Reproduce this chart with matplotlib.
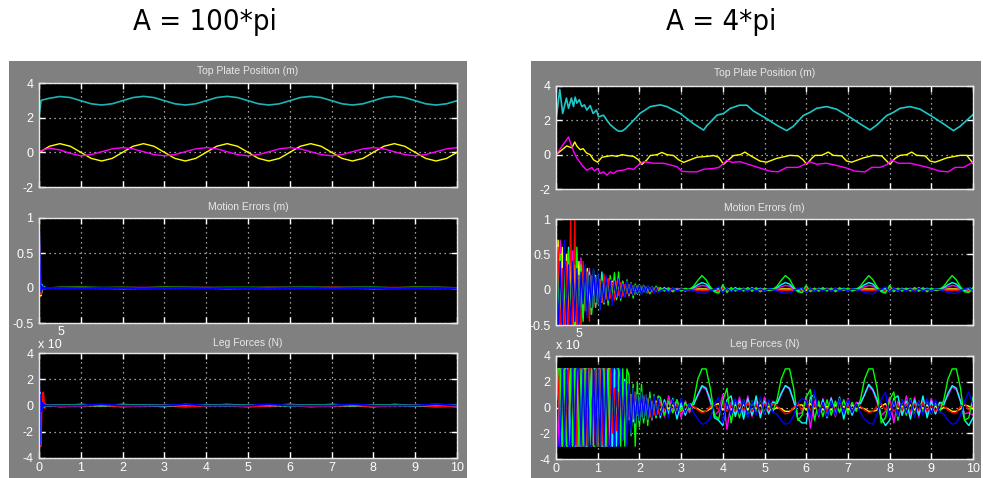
import numpy as np
import matplotlib
matplotlib.use('Agg')
import matplotlib.pyplot as plt
from matplotlib import font_manager as fm
from matplotlib.patches import Rectangle

# ---------------- data ----------------
# left scope (A = 100*pi), top plate position
t_top_l = [0, 0.05] + list(np.arange(0.25, 10.01, 0.25))
cyan_top_l = [2.0, 3.0,
              3.12, 3.22, 3.16, 2.98, 2.80, 2.73, 2.80, 2.98,
              3.16, 3.23, 3.16, 2.98, 2.80, 2.73, 2.80, 2.98,
              3.16, 3.23, 3.16, 2.98, 2.80, 2.73, 2.80, 2.98,
              3.16, 3.23, 3.16, 2.98, 2.80, 2.73, 2.80, 2.98,
              3.16, 3.23, 3.16, 2.98, 2.80, 2.73, 2.80, 2.98]
yel_top_l = [0.0, 0.05,
             0.35, 0.5, 0.35, 0.0, -0.35, -0.5, -0.35, 0.0,
             0.35, 0.5, 0.35, 0.0, -0.35, -0.5, -0.35, 0.0,
             0.35, 0.5, 0.35, 0.0, -0.35, -0.5, -0.35, 0.0,
             0.35, 0.5, 0.35, 0.0, -0.35, -0.5, -0.35, 0.0,
             0.35, 0.5, 0.35, 0.0, -0.35, -0.5, -0.35, 0.0]
mag_top_l = [0.0, 0.1,
             0.24, 0.14, -0.06, -0.2, -0.13, 0.035, 0.2, 0.27,
             0.2, 0.035, -0.13, -0.2, -0.13, 0.035, 0.2, 0.27,
             0.2, 0.035, -0.13, -0.2, -0.13, 0.035, 0.2, 0.27,
             0.2, 0.035, -0.13, -0.2, -0.13, 0.035, 0.2, 0.27,
             0.2, 0.035, -0.13, -0.2, -0.13, 0.035, 0.2, 0.27]

# left scope motion errors (cm), 0-0.30 s step 0.02 then 0.5-10 s step 0.5
me_l_a = {
    'yellow':  [0, -5, -11, -6, 3, -1, 1, 0, 0, 0, 0, 0, 0, 0, 0, 0],
    'magenta': [80, 25, -8, 4, -2, 2, -1, 1, 0, 0, 0, 0, 0, 0, 0, 0],
    'cyan':    [60, 5, -4, 5, -2, 1, 0, 1, 0, 0, 0, 0, 0, 0, 0, 0],
    'red':     [0, 60, -9, 3, -1, 1, 0, 0, 0, 0, 0, 0, 0, 0, 0, 0],
    'green':   [85, 10, -3, 2, 1, -1, 1, 0, 0, 0, 0, 0, 0, 0, 0, 0],
    'blue':    [85, 40, -5, 3, -2, 1, -1, 0, 1, 0, 0, -1, 0, 0, 0, 0],
}
me_l_b = {
    'yellow':  [0, 0.4, 0, -0.4, 0, 0.4, 0, 0, -0.4, 0, 0.4, 0, 0, 0.4, 0, -0.4, 0, 0.4, 0, 0],
    'magenta': [0.4, 0, -0.4, 0, 0.4, 0, 0.4, 0, 0, -0.4, 0, 0.4, 0, 0, 0.4, 0, -0.4, 0, 0.4, 0],
    'cyan':    [0, 0, 0.3, 0, -0.3, 0, 0, 0.3, 0, 0, -0.3, 0, 0.3, 0, 0, 0.3, 0, 0, -0.3, 0],
    'red':     [-0.4, 0, 0, 0.4, 0, -0.4, 0, 0.4, 0, 0, 0, -0.4, 0, 0.4, 0, 0, 0.4, 0, 0, -0.4],
    'green':   [0.5, 0.5, 0, 0.5, 0, 0.5, 0.5, 0, 0.5, 0.5, 0, 0.5, 0.5, 0, 0.5, 0.5, 0, 0.5, 0.5, 0],
    'blue':    [0, -0.3, 0, 0, -0.3, 0, 0, -0.3, 0, 0, -0.3, 0, 0, -0.3, 0, 0, -0.3, 0, 0, -0.3],
}

# left scope leg forces (x 1e4 N), same time grids
f_l_a = {
    'yellow':  [0, 5, -8, 4, -1, 1, 0, 0, 0, 0, 0, 0, 0, 0, 0, 0],
    'magenta': [0, 8, -12, 5, -2, 1, 0, 0, 0, 0, 0, 0, 0, 0, 0, 0],
    'cyan':    [0, 10, -6, -3, 3, -1, 1, 0, 0, 0, 0, 0, 0, 0, 0, 0],
    'red':     [0, -10, -31, -5, 8, 10, 2, -2, 1, 0, 0, 0, 0, 0, 0, 0],
    'green':   [0, -25, 4, -3, 2, 1, -1, 1, 0, 0, 0, 0, 0, 0, 0, 0],
    'blue':    [30, -30, 8, -4, 2, -1, 1, 0, 0, 0, 0, 0, 0, 0, 0, 0],
}
f_l_b = {
    'yellow':  [0, 0.6, 0, 0.6, 0, -0.6, 0.6, 0, 0.6, 0, 0, 0.6, 0, 0.6, 0, -0.6, 0.6, 0, 0.6, 0],
    'magenta': [-0.8, 0, 0.5, -0.8, 0, 0, -0.8, 0.5, 0, -0.8, 0, 0.5, -0.8, 0, 0, -0.8, 0.5, 0, -0.8, 0],
    'cyan':    [0, 0.3, 0, 0, 0.3, 0, 0, 0.3, 0, 0, 0.3, 0, 0, 0.3, 0, 0, 0.3, 0, 0, 0.3],
    'red':     [-0.6, 0, 0, -0.6, 0, 0.3, -0.6, 0, 0, -0.6, 0, 0.3, -0.6, 0, 0, -0.6, 0, 0.3, -0.6, 0],
    'green':   [0.4, 0.4, 0, 0.4, 0.4, 0, 0.4, 0.4, 0, 0.4, 0.4, 0, 0.4, 0.4, 0, 0.4, 0.4, 0, 0.4, 0.4],
    'blue':    [0, 0, 0.9, 0, 0, 0, 0.9, 0, 0, 0, 0.9, 0, 0, 0, 0.9, 0, 0, 0, 0.9, 0],
}

# right scope (A = 4*pi), top plate position
t_cyan_r = [0, 0.09, 0.16, 0.25, 0.3, 0.37, 0.42, 0.46, 0.5, 0.56,
            0.62, 0.68, 0.74, 0.82, 0.89, 0.97, 1.02, 1.14, 1.22, 1.3,
            1.42, 1.5, 1.58, 1.66, 1.78, 1.9, 2.02, 2.14, 2.26, 2.5,
            2.66, 2.82, 2.98, 3.14, 3.3, 3.54, 3.62, 3.74, 3.86, 4.02,
            4.18, 4.4, 4.58, 4.73, 5.05, 5.29, 5.53, 5.69, 5.93, 6.09,
            6.25, 6.49, 6.73, 7.05, 7.29, 7.53, 7.69, 7.93, 8.09, 8.25,
            8.49, 8.73, 9.05, 9.29, 9.53, 9.69, 10.0]
cyan_top_r = [2.0, 3.8, 2.4, 3.3, 2.7, 3.3, 2.8, 3.35, 3.0, 3.2,
              2.8, 2.9, 2.6, 2.86, 2.4, 2.6, 2.2, 2.3, 2.0, 1.75,
              1.5, 1.37, 1.37, 1.5, 1.8, 2.1, 2.42, 2.6, 2.8, 2.9,
              2.8, 2.6, 2.4, 2.1, 1.8, 1.43, 1.7, 2.0, 2.3, 2.4,
              2.7, 2.88, 2.88, 2.55, 2.1, 1.72, 1.4, 1.65, 2.28, 2.46,
              2.7, 2.8, 2.65, 2.18, 1.8, 1.44, 1.72, 2.28, 2.46, 2.7,
              2.8, 2.65, 2.18, 1.8, 1.4, 1.65, 2.33]
t_yel_r = [0, 0.26, 0.38, 0.45, 0.5, 0.58, 0.65, 0.73, 0.82, 0.9,
           1.0, 1.1, 1.22, 1.34, 1.46, 1.58, 1.7, 1.86, 1.98, 2.06,
           2.18, 2.26, 2.42, 2.54, 2.66, 2.82, 2.94, 3.06, 3.22, 3.38,
           3.62, 3.78, 3.9, 4.02, 4.14, 4.26, 4.42, 4.53, 4.65, 4.89,
           5.05, 5.29, 5.61, 5.81, 5.93, 6.01, 6.13, 6.21, 6.37, 6.53,
           6.65, 6.85, 6.97, 7.09, 7.37, 7.61, 7.81, 7.93, 8.01, 8.13,
           8.25, 8.41, 8.53, 8.65, 8.85, 8.97, 9.09, 9.37, 9.69, 9.85,
           10.0]
yel_top_r = [0, 0.51, 0.4, 0.74, 0.5, 0.29, 0.35, 0.1, 0.0, -0.3,
             -0.44, -0.15, -0.1, -0.05, -0.1, 0.0, -0.05, -0.1, -0.3, -0.57,
             -0.3, -0.05, 0.0, 0.13, 0.0, -0.05, -0.3, -0.45, -0.3, -0.15,
             -0.1, -0.05, -0.15, -0.55, -0.3, -0.05, 0.0, 0.15, -0.04, -0.37,
             -0.44, -0.22, -0.04, -0.07, -0.31, -0.56, -0.22, -0.04, -0.04, 0.15,
             -0.04, -0.07, -0.37, -0.44, -0.19, -0.04, -0.07, -0.37, -0.56, -0.22,
             -0.04, 0.0, 0.15, -0.04, -0.07, -0.37, -0.44, -0.19, -0.04, -0.04,
             -0.5]
t_mag_r = [0, 0.3, 0.36, 0.42, 0.5, 0.62, 0.74, 0.86, 0.92, 1.0,
           1.06, 1.14, 1.22, 1.3, 1.38, 1.46, 1.62, 1.74, 1.86, 1.98,
           2.1, 2.22, 2.34, 2.58, 2.74, 2.9, 3.02, 3.22, 3.38, 3.54,
           3.78, 3.9, 4.02, 4.1, 4.22, 4.41, 4.65, 4.89, 5.13, 5.33,
           5.53, 5.81, 5.93, 6.09, 6.25, 6.49, 6.73, 6.97, 7.17, 7.41,
           7.57, 7.77, 7.93, 8.05, 8.21, 8.49, 8.73, 8.97, 9.21, 9.41,
           9.57, 9.77, 10.0]
mag_top_r = [0, 1.03, 0.6, 0.2, -0.2, -0.6, -0.91, -0.75, -0.95, -0.8,
             -1.1, -1.0, -1.2, -1.0, -1.1, -0.95, -0.9, -0.8, -0.85, -0.6,
             -0.4, -0.45, -0.5, -0.5, -0.6, -0.7, -0.97, -1.0, -1.0, -0.85,
             -0.8, -0.75, -0.5, -0.32, -0.45, -0.41, -0.59, -0.78, -0.96, -1.0,
             -0.74, -0.74, -0.59, -0.41, -0.56, -0.5, -0.63, -0.78, -0.96, -1.0,
             -0.74, -0.74, -0.59, -0.31, -0.5, -0.5, -0.63, -0.78, -0.96, -1.0,
             -0.74, -0.74, -0.44]

# right scope motion errors (cm): 0-2.45 s step 0.05, then 2.5-10 s step 0.1
me_r_a = {
    'yellow':  [0, 70, -50, 60, -40, 50, -30, 45, -55, 35,
                -30, 40, -45, 25, -20, 30, -25, 18, -15, 20,
                -15, 12, -18, 15, -10, 14, -8, 12, -9, 8,
                -7, 6, -8, 5, -4, 6, -5, 4, -3, 5,
                -3, 4, -2, 3, -4, 2, -3, 2, -2, 3],
    'magenta': [60, -30, 70, -50, 45, -65, 30, -40, 55, -35,
                40, -25, 45, -30, 25, -35, 30, -18, 20, -25,
                18, -22, 20, -12, 18, -16, 10, -14, 12, -9,
                10, -8, 12, -6, 8, -9, 5, -7, 6, -4,
                5, -4, 6, -3, 4, -5, 3, -2, 4, -3],
    'cyan':    [70, -60, 45, -70, 30, -40, 60, -55, 30, -75,
                35, -65, 30, -40, 20, -30, 25, -35, 18, -20,
                20, -15, 25, -20, 12, -18, 15, -10, 12, -14,
                9, -10, 7, -8, 10, -5, 6, -7, 5, -6,
                4, -5, 3, -4, 5, -3, 4, -2, 3, -3],
    'red':     [0, 60, -70, 30, -55, 40, -80, 100, -60, 100,
                -70, 20, -60, 40, -30, 25, -45, 20, -25, 18,
                -20, 15, -18, 22, -14, 16, -12, 10, -15, 12,
                -8, 10, -9, 7, -6, 8, -5, 6, -7, 5,
                -4, 5, -3, 4, -5, 3, -4, 3, -2, 3],
    'green':   [80, -40, 50, -60, 30, -70, 55, -45, 40, -60,
                60, -50, 35, -45, 25, -30, 20, -35, 28, -25,
                22, -28, 18, -20, 15, -22, 20, -15, 24, -12,
                25, -15, 12, -10, 14, -8, 10, -12, 8, -6,
                7, -5, 6, -4, 5, -6, 4, -3, 5, -3],
    'blue':    [80, -70, 40, -55, 70, -50, 35, -60, 40, -45,
                30, -55, 25, -20, 35, -40, 20, -25, 30, -18,
                25, -30, 12, -18, 20, -15, 14, -22, 12, -10,
                15, -12, 8, -10, 12, -6, 9, -8, 6, -5,
                6, -7, 5, -4, 6, -3, 4, -5, 3, -4],
}
me_r_b = {
    'yellow':  [1, -1, 1, 0, -1, 1, 0, -1, 0, 1,
                1, 1, 0, -1, 1, -1, 1, 0, -1, 1,
                0, -1, 1, 0, -1, 1, 0, -1, 0, 1,
                1, 1, 0, -1, 1, -1, 1, 0, -1, 1,
                0, -1, 1, 0, -1, 1, 0, -1, 0, 1,
                1, 1, 0, -1, 1, -1, 1, 0, -1, 1,
                0, -1, 1, 0, -1, 1, 0, -1, 0, 1,
                1, 1, 0, -1, 1, 0],
    'magenta': [2, -1, 3, -2, 2, -1, 1, -1, 2, 4,
                6, 5, 1, -2, -3, 4, -2, 2, -1, 2,
                -1, 2, -2, 3, -1, 2, -1, 0, 2, 4,
                6, 5, 1, -2, -4, 3, -1, 2, -2, 1,
                -1, 2, -2, 3, -1, 2, -1, 0, 2, 4,
                6, 5, 1, -2, -3, 4, -2, 2, -1, 2,
                -1, 2, -2, 3, -1, 2, -1, 0, 2, 4,
                6, 5, 1, -2, -3, 1],
    'cyan':    [-2, 3, -2, 2, -1, 2, -2, 1, 3, 7,
                10, 8, 2, -2, 3, -3, 2, -2, 3, -1,
                2, -2, 3, -1, 2, -2, 1, 1, 3, 7,
                10, 8, 2, -2, 3, -4, 2, -2, 2, -1,
                2, -2, 2, -1, 2, -2, 1, 1, 3, 7,
                10, 8, 2, -2, 3, -3, 2, -2, 2, -1,
                2, -2, 3, -1, 2, -2, 1, 1, 3, 7,
                10, 8, 2, -2, 3, 0],
    'red':     [1, -1, 1, 0, -1, 1, 0, -1, 0, -1,
                -1, -1, 0, 1, -1, 2, -1, 1, 0, -1,
                1, -1, 1, 0, -1, 1, 0, -1, 0, -1,
                -1, -1, 0, 1, -1, 2, -1, 1, 0, -1,
                1, -1, 1, 0, -1, 1, 0, -1, 0, -1,
                -1, -1, 0, 1, -1, 2, -1, 1, 0, -1,
                1, -1, 1, 0, -1, 1, 0, -1, 0, -1,
                -1, -1, 0, 1, -1, 0],
    'green':   [3, -2, 2, -3, 1, -2, 2, 0, 5, 13,
                20, 14, 4, -3, -5, 7, -4, 3, -2, 2,
                -2, 3, -2, 2, -3, 2, -1, 0, 5, 13,
                20, 15, 4, -3, -4, 6, -3, 2, -2, 3,
                -2, 2, -3, 2, -1, 2, -2, 0, 5, 13,
                20, 14, 4, -3, -5, 6, -3, 2, -2, 2,
                -2, 3, -2, 2, -3, 2, -1, 0, 5, 13,
                20, 14, 4, -3, -4, 3],
    'blue':    [-2, 1, -3, 2, -2, 1, -1, 0, -2, -4,
                -5, -5, -2, 1, 4, -4, 2, -3, 1, -2,
                1, -3, 2, -2, 1, -2, 1, 0, -2, -4,
                -5, -5, -2, 2, 3, -4, 2, -2, 1, -2,
                1, -3, 2, -2, 1, -2, 1, 0, -2, -4,
                -5, -6, -2, 1, 4, -3, 2, -2, 1, -2,
                1, -3, 2, -2, 1, -2, 1, 0, -2, -4,
                -5, -5, -2, 2, 3, -2],
}

# right scope leg forces (x 1e4 N), same time grids
f_r_a = {
    'yellow':  [0, 30, 30, -30, 30, 30, -30, 30, -30, 30,
                -30, 30, -30, 30, 30, -30, 30, -30, 30, 30,
                -30, 30, -30, 30, -30, 30, 30, -30, 22, -15,
                14, -12, 16, -10, 12, -9, 10, -11, 8, -6,
                7, -6, 8, -5, 6, -7, 4, -5, 5, -4],
    'magenta': [0, -30, 30, 30, -30, 30, -30, 30, 30, -30,
                30, -30, -30, 30, -30, 30, 30, -30, 30, -30,
                30, 30, -30, 30, -30, -30, 30, -30, 30, 25,
                -28, 20, -22, 15, -18, 12, -14, 16, -10, 12,
                -9, 11, -8, 10, -7, 9, -10, 6, -8, 7],
    'cyan':    [20, 30, -30, 30, -30, 30, 30, -30, 30, -30,
                -30, 30, -30, 30, -30, -30, 30, -30, 30, 30,
                -30, 30, -30, -30, 30, -30, 30, -30, 30, -30,
                30, 20, -25, 22, -18, 15, -20, 14, -12, 10,
                -12, 9, -10, 8, -7, 9, -8, 6, -7, 8],
    'red':     [0, 30, -30, -30, 30, -30, 30, 30, -30, 30,
                -30, 30, 30, -30, 30, -30, 30, 30, -30, 30,
                -30, 30, -30, 30, 30, -30, 30, -20, 15, -18,
                12, -15, 10, -12, 14, -8, 10, -9, 12, -6,
                8, -7, 9, -6, 7, -8, 5, -6, 4, -5],
    'green':   [0, 30, 30, -30, 30, -30, -30, 30, -30, 30,
                30, -30, 30, -30, 30, 30, -30, 30, -30, -30,
                30, -30, 30, 30, -30, 30, -30, 30, -30, 30,
                30, -30, 30, -30, 30, 25, -22, 18, -30, 20,
                -15, 18, -12, 10, -14, 12, -9, 10, -8, 9],
    'blue':    [0, -30, -30, 30, -30, 30, -30, -30, 30, -30,
                30, 30, -30, 30, -30, 30, -30, -30, 30, -30,
                30, -30, 30, -30, 30, -30, -30, 30, -30, 30,
                -30, 30, -25, 20, -30, 18, -20, 15, -12, 10,
                -10, 12, -8, 10, -9, 7, -8, 9, -6, 7],
}
f_r_b = {
    'yellow':  [-2, 3, -1, 2, -3, 1, -2, 2, 0, -1,
                -3, -3, -1, 2, 3, -2, 1, -2, 2, -1,
                2, -2, 3, -1, 2, -3, 1, -2, 0, -1,
                -3, -3, -1, 2, 2, -2, 3, -1, 2, -2,
                1, -2, 2, -3, 1, -2, 2, -1, 0, -1,
                -3, -3, -2, 1, 3, -2, 2, -1, 1, -2,
                2, -2, 3, -1, 2, -2, 1, -2, 0, -1,
                -3, -3, -1, 2, 1, -1],
    'magenta': [5, -7, 9, -4, 6, -8, 5, -4, 4, 9,
                16, 14, 4, -6, -3, 10, -17, 4, -6, 8,
                -5, 9, -7, 5, -6, 8, -4, 5, 3, 10,
                17, 14, 5, -5, -4, 9, -16, 5, -7, 7,
                -6, 8, -7, 6, -5, 7, -4, 4, 3, 10,
                17, 13, 4, -6, -3, 8, -12, 5, -6, 9,
                -5, 8, -7, 5, -6, 7, -5, 4, 4, 9,
                16, 14, 5, -5, -4, -6],
    'cyan':    [-8, 6, -5, 7, -9, 4, -6, 3, 2, 10,
                17, 15, 6, -8, -10, -14, 6, 9, -7, 5,
                -9, 7, -6, 9, -8, 5, -5, 4, 3, 11,
                17, 15, 5, -9, -12, -12, 8, 10, -6, 6,
                -8, 7, -5, 8, -9, 5, -6, 3, 3, 10,
                18, 14, 6, -8, -14, -10, 7, 9, -6, 5,
                -9, 6, -6, 9, -8, 5, -5, 4, 2, 11,
                17, 15, 5, -10, -14, -8],
    'red':     [3, -2, 4, -3, 2, -4, 3, -2, 1, -2,
                -4, -3, 1, 3, -2, 4, -3, 2, -3, 3,
                -2, 4, -3, 2, -3, 3, -2, 3, 1, -2,
                -5, -4, 0, 4, -3, 5, -2, 3, -3, 2,
                -3, 3, -2, 4, -3, 2, -3, 2, 1, -2,
                -4, -3, 1, 3, -2, 4, -3, 2, -2, 3,
                -3, 3, -2, 4, -3, 2, -3, 2, 1, -2,
                -4, -4, 1, 3, -2, 2],
    'green':   [8, -6, 5, -4, 6, -3, 4, -2, 5, 22,
                30, 30, 15, -6, -9, 5, 15, -12, 6, -8,
                6, -7, 5, -4, 7, -5, 4, -3, 6, 22,
                30, 30, 15, -10, -6, 8, 14, -10, 5, -7,
                6, -6, 5, -4, 6, -5, 4, -3, 6, 22,
                30, 30, 15, -12, -8, 6, 12, -10, 6, -6,
                7, -6, 5, -4, 6, -5, 4, -3, 6, 22,
                30, 30, 15, -10, -8, 8],
    'blue':    [-6, 4, -8, 6, -5, 7, -4, 3, -4, -9,
                -13, -12, -8, 3, 8, -12, 4, -6, 7, -5,
                6, -8, 5, -6, 8, -5, 6, -4, -5, -10,
                -13, -12, -6, 4, 7, 5, -8, 13, -6, 4,
                -7, 5, -6, 7, -5, 6, -4, 3, -4, -9,
                -12, -13, -5, 6, 12, -8, 5, -7, 6, -4,
                6, -7, 5, -6, 7, -5, 6, -4, -5, -10,
                -13, -12, -6, 5, 12, 2],
}

colors = {'yellow': '#ffff00', 'magenta': '#ff00ff', 'cyan': '#00ffff',
          'red': '#ff0000', 'green': '#00ff00', 'blue': '#0000ff'}
order = ['yellow', 'magenta', 'cyan', 'red', 'green', 'blue']

# ---------------- figure ----------------
W, H = 983, 478
fig = plt.figure(figsize=(W / 100, H / 100), dpi=100)
fig.patch.set_facecolor('white')


def fx(px):
    return px / W


def fy(py):
    return 1 - py / H


# pick a condensed face for the two headings if one is installed
head_prop = None
for fam in ['DejaVu Sans', 'Liberation Sans Narrow', 'Roboto Condensed', 'Noto Sans', 'Open Sans']:
    try:
        path = fm.findfont(fm.FontProperties(family=fam, stretch='condensed'), fallback_to_default=False)
    except Exception:
        continue
    low = path.lower()
    if 'condensed' in low or 'narrow' in low:
        head_prop = fm.FontProperties(fname=path, size=21)
        break
if head_prop is None:
    head_prop = fm.FontProperties(family='DejaVu Sans', size=18)

# grey scope windows
for x0, x1 in [(9, 467), (531, 981)]:
    fig.add_artist(Rectangle((fx(x0), 0), fx(x1) - fx(x0), fy(61), transform=fig.transFigure,
                             facecolor='#808080', edgecolor='none', zorder=0))


def scope_ax(x0, y0, x1, y1, ylim, yticks, ylabels, title, ty, show_x):
    ax = fig.add_axes([fx(x0), fy(y1), fx(x1) - fx(x0), (y1 - y0) / H])
    ax.set_facecolor('black')
    ax.set_xlim(0, 10)
    ax.set_ylim(*ylim)
    ax.set_xticks(range(11))
    ax.set_xticklabels([str(i) for i in range(11)] if show_x else [])
    ax.set_yticks(yticks)
    ax.set_yticklabels(ylabels)
    ax.tick_params(direction='in', length=4, width=1, color='white', labelcolor='white',
                   labelsize=9, top=True, right=True)
    ax.tick_params(axis='y', pad=4)
    ax.tick_params(axis='x', pad=3)
    for lab in ax.get_xticklabels() + ax.get_yticklabels():
        lab.set_family(['Liberation Sans', 'DejaVu Sans'])
    ax.grid(True, color='#cfcfcf', linestyle=(0, (1, 3)), linewidth=0.9)
    for s in ax.spines.values():
        s.set_color('#e8e8e8')
        s.set_linewidth(1)
    fig.text(fx((x0 + x1) / 2), fy(ty), title, ha='center', va='center', color='#e8e8e8',
             fontsize=7.5, family=['Liberation Sans', 'DejaVu Sans'])
    return ax


top_ticks = ([-2, 0, 2, 4], ['-2', '0', '2', '4'])
me_ticks = ([-0.5, 0, 0.5, 1], ['-0.5', '0', '0.5', '1'])
f_ticks = ([-4e5, -2e5, 0, 2e5, 4e5], ['-4', '-2', '0', '2', '4'])

# ---- left scope ----
ax = scope_ax(39, 83, 457, 187, (-2, 4), *top_ticks, 'Top Plate Position (m)', 71, False)
ax.plot(t_top_l, cyan_top_l, color='#1cb4b4', lw=1.2)
ax.plot(t_top_l, yel_top_l, color=colors['yellow'], lw=1.0)
ax.plot(t_top_l, mag_top_l, color=colors['magenta'], lw=1.0)

t_l_a = np.arange(16) * 0.02
t_l_b = 0.5 + np.arange(20) * 0.5
ax = scope_ax(39, 218, 457, 323, (-0.5, 1), *me_ticks, 'Motion Errors (m)', 207, False)
for c in order:
    ax.plot(np.r_[t_l_a, t_l_b], np.r_[me_l_a[c], me_l_b[c]] * 0.01, color=colors[c], lw=1.4)

ax = scope_ax(39, 353, 457, 458, (-4e5, 4e5), *f_ticks, 'Leg Forces (N)', 343, True)
for c in order:
    ax.plot(np.r_[t_l_a, t_l_b], np.r_[f_l_a[c], f_l_b[c]] * 1e4, color=colors[c], lw=1.4)
fig.text(fx(38), fy(345), 'x 10', ha='left', va='center', color='white', fontsize=9,
         family=['Liberation Sans', 'DejaVu Sans'])
fig.text(fx(58), fy(332), '5', ha='left', va='center', color='white', fontsize=9,
         family=['Liberation Sans', 'DejaVu Sans'])

# ---- right scope ----
ax = scope_ax(556, 86, 973, 189, (-2, 4), *top_ticks, 'Top Plate Position (m)', 73, False)
ax.plot(t_cyan_r, cyan_top_r, color='#1cc8c8', lw=1.2)
ax.plot(t_yel_r, yel_top_r, color=colors['yellow'], lw=1.0)
ax.plot(t_mag_r, mag_top_r, color=colors['magenta'], lw=1.0)

t_r_a = np.arange(50) * 0.05
t_r_b = 2.5 + np.arange(76) * 0.1
ax = scope_ax(556, 219, 973, 325, (-0.5, 1), *me_ticks, 'Motion Errors (m)', 208, False)
for c in order:
    ax.plot(np.r_[t_r_a[:len(me_r_a[c])], t_r_b[:len(me_r_b[c])]],
            np.r_[me_r_a[c], me_r_b[c]] * 0.01, color=colors[c], lw=1.0)

ax = scope_ax(556, 356, 973, 459, (-4e5, 4e5), *f_ticks, 'Leg Forces (N)', 344, True)
for c in order:
    ax.plot(np.r_[t_r_a[:len(f_r_a[c])], t_r_b[:len(f_r_b[c])]],
            np.r_[f_r_a[c], f_r_b[c]] * 1e4, color=colors[c], lw=1.0)
fig.text(fx(556), fy(346), 'x 10', ha='left', va='center', color='white', fontsize=9,
         family=['Liberation Sans', 'DejaVu Sans'])
fig.text(fx(576), fy(334), '5', ha='left', va='center', color='white', fontsize=9,
         family=['Liberation Sans', 'DejaVu Sans'])

# ---- headings ----
fig.text(fx(205), fy(22), 'A = 100*pi', ha='center', va='center', fontproperties=head_prop)
fig.text(fx(721), fy(22), 'A = 4*pi', ha='center', va='center', fontproperties=head_prop)

fig.savefig('out.png', dpi=100)
